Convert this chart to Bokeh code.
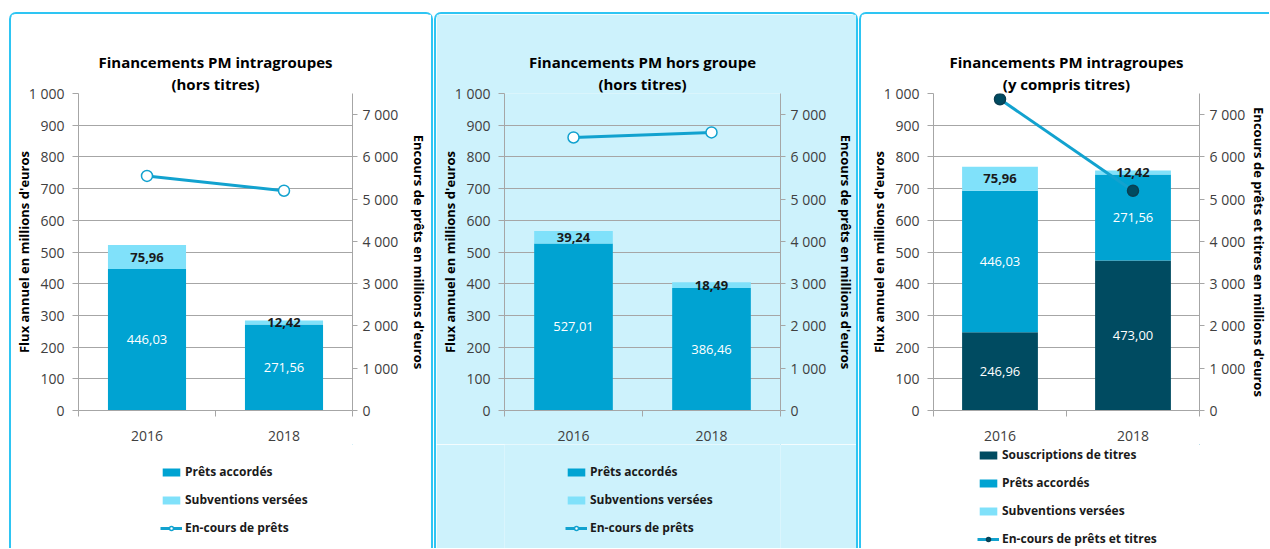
from bokeh.plotting import figure
from bokeh.models import (Range1d, LinearAxis, FixedTicker, Legend, LegendItem, Title, Spacer)
from bokeh.layouts import row, column
from bokeh.embed import file_html
from bokeh.resources import INLINE
from bokeh.core.properties import value

# ---------------- data ----------------
years = ["2016", "2018"]

p1_prets = [446.03, 271.56]
p1_subv = [75.96, 12.42]
p1_encours = [5550, 5200]

p2_prets = [527.01, 386.46]
p2_subv = [39.24, 18.49]
p2_encours = [6460, 6580]

p3_titres = [246.96, 473.00]
p3_prets = [446.03, 271.56]
p3_subv = [75.96, 12.42]
p3_encours = [7365, 5200]

left_ticks = [0, 100, 200, 300, 400, 500, 600, 700, 800, 900, 1000]
right_ticks = [0, 1000, 2000, 3000, 4000, 5000, 6000, 7000]
left_max = 1000
right_max = 7500

left_label = "Flux annuel en millions d'euros"

# ---------------- style ----------------
FONT = "Open Sans"
GRID = "#A6A6A6"
TICK_TXT = "#404040"
C_PRETS = "#00A3D2"
C_SUBV = "#80E1FA"
C_TITRES = "#004B61"
C_LINE = "#12A2CF"
BORDER = "#2EC5F3"
HC = 430   # chart part
HL = 104   # legend part


def fmt_thousands(v):
    return f"{v:,}".replace(",", " ")


def fmt_dec(v):
    return f"{v:.2f}".replace(".", ",")


def make_panel(title_lines, series, encours, line_name, marker_fill, marker_line,
               bg, w, borders, legend_xy, right_label, right_standoff, right_border):
    n = len(years)
    xs = [i + 0.5 for i in range(n)]
    bl, br, bt, bb = borders
    bd = f"2px solid {BORDER}"
    top_style = {"box-sizing": "content-box", "border-top": bd, "border-left": bd,
                 "border-right": bd if right_border else "none",
                 "border-radius": "7px 7px 0 0" if right_border else "7px 0 0 0"}
    bot_style = {"box-sizing": "content-box", "border-left": bd,
                 "border-right": bd if right_border else "none"}

    p = figure(width=w, height=HC, x_range=Range1d(0, n), y_range=Range1d(0, left_max),
               output_backend="svg", toolbar_location=None,
               min_border_left=bl, min_border_right=br, min_border_top=bt,
               min_border_bottom=bb, background_fill_color=bg, border_fill_color=bg,
               outline_line_color=None, styles=top_style)
    p.extra_y_ranges = {"enc": Range1d(0, right_max)}

    # empty spacer axis between plot area and the two title lines
    gap = LinearAxis(ticker=FixedTicker(ticks=[]), major_tick_out=19, major_tick_in=0,
                     major_label_standoff=0, axis_line_color=None,
                     major_tick_line_color=None, minor_tick_line_color=None)
    p.add_layout(gap, "above")
    tkw = dict(align="center", standoff=0, text_font=FONT, text_font_size="15px",
               text_font_style="bold", text_color="#000000")
    p.add_layout(Title(text=title_lines[1], **tkw), "above")
    p.add_layout(Title(text=title_lines[0], **tkw), "above")

    # grid
    p.xgrid.visible = False
    p.ygrid.ticker = FixedTicker(ticks=left_ticks)
    p.ygrid.grid_line_color = GRID

    # left axis
    ya = p.yaxis[0]
    ya.ticker = FixedTicker(ticks=left_ticks)
    ya.major_label_overrides = {t: fmt_thousands(t) for t in left_ticks}
    ya.axis_label = left_label
    ya.axis_label_standoff = -7

    # x axis (ticks at category boundaries)
    xa = p.below[0]
    xa.ticker = FixedTicker(ticks=xs, minor_ticks=[float(i) for i in range(n + 1)])
    xa.major_label_overrides = {x: y for x, y in zip(xs, years)}
    xa.minor_tick_out = 6
    xa.minor_tick_in = 0
    xa.minor_tick_line_color = GRID
    xa.major_label_standoff = 14

    # right axis
    ra = LinearAxis(y_range_name="enc", ticker=FixedTicker(ticks=right_ticks))
    ra.major_label_overrides = {t: fmt_thousands(t) for t in right_ticks}
    ra.axis_label = right_label
    ra.axis_label_standoff = right_standoff
    p.add_layout(ra, "right")

    for ax, tout in [(ya, 6), (ra, 5), (xa, 0)]:
        ax.axis_line_color = GRID
        ax.major_tick_line_color = GRID
        ax.major_tick_out = tout
        ax.major_tick_in = 0
        if ax is not xa:
            ax.minor_tick_line_color = None
            ax.major_label_standoff = 8 if ax is ya else 5
        ax.major_label_text_font = FONT
        ax.major_label_text_font_size = "14px"
        ax.major_label_text_color = TICK_TXT
        ax.axis_label_text_font = FONT
        ax.axis_label_text_font_size = "13px"
        ax.axis_label_text_font_style = "bold"
        ax.axis_label_text_color = "#000000"

    # stacked bars with value labels
    bottoms = [0.0] * n
    stacks = []
    for name, vals, color, txt_color, txt_style in series:
        tops = [b + v for b, v in zip(bottoms, vals)]
        p.vbar(x=xs, bottom=bottoms, top=tops, width=0.57, fill_color=color, line_color=None)
        mids = [(b + t) / 2 for b, t in zip(bottoms, tops)]
        p.text(x=xs, y=mids, text=[fmt_dec(v) for v in vals], text_align="center",
               text_baseline="middle", text_font=value(FONT), text_font_size="13px",
               text_color=txt_color, text_font_style=txt_style)
        stacks.append((name, bottoms, tops, color))
        bottoms = tops

    # outstanding amounts on the secondary axis
    line_kw = dict(line_color=C_LINE, line_width=3)
    mark_kw = dict(size=11, fill_color=marker_fill, line_color=marker_line, line_width=1.5)
    p.line(xs, encours, y_range_name="enc", **line_kw)
    p.scatter(xs, encours, y_range_name="enc", **mark_kw)

    # legend strip below the chart (its renderers lie outside its visible window)
    lg = figure(width=w, height=HL, x_range=Range1d(-3, -2), y_range=Range1d(-3, -2),
                x_axis_type=None, y_axis_type=None, output_backend="svg",
                toolbar_location=None, min_border=0, background_fill_color=bg,
                border_fill_color=bg, outline_line_color=None, styles=bot_style)
    items = []
    for name, b, t, color in stacks:
        r = lg.vbar(x=xs, bottom=b, top=t, width=0.57, fill_color=color, line_color=None)
        items.append(LegendItem(label=name, renderers=[r]))
    rl = lg.line(xs, encours, **line_kw)
    rs = lg.scatter(xs, encours, **mark_kw)
    items.append(LegendItem(label=line_name, renderers=[rl, rs]))
    leg = Legend(items=items, location=legend_xy, orientation="vertical",
                 glyph_width=22, glyph_height=10, label_height=16, spacing=11,
                 padding=0, margin=0, label_standoff=3,
                 background_fill_alpha=0, border_line_alpha=0,
                 label_text_font=FONT, label_text_font_size="12px",
                 label_text_font_style="bold", label_text_color="#1A1A1A")
    lg.add_layout(leg, "center")
    return column(Spacer(height=12), p, lg, spacing=0)


c1 = make_panel(["Financements PM intragroupes", "(hors titres)"],
                [("Prêts accordés", p1_prets, C_PRETS, "#FFFFFF", "normal"),
                 ("Subventions versées", p1_subv, C_SUBV, "#1A1A1A", "bold")],
                p1_encours, "En-cours de prêts", "#FFFFFF", C_LINE, "#FFFFFF",
                420, (67, 83, 79, 36), (82, 12),
                "Encours de prêts en millions d'euros", 9, True)

c2 = make_panel(["Financements PM hors groupe", "(hors titres)"],
                [("Prêts accordés", p2_prets, C_PRETS, "#FFFFFF", "normal"),
                 ("Subventions versées", p2_subv, C_SUBV, "#1A1A1A", "bold")],
                p2_encours, "En-cours de prêts", "#FFFFFF", C_LINE, "#CDF2FC",
                420, (68, 80, 79, 36), (61, 12),
                "Encours de prêts en millions d'euros", 8, True)

c3 = make_panel(["Financements PM intragroupes", "(y compris titres)"],
                [("Souscriptions de titres", p3_titres, C_TITRES, "#FFFFFF", "normal"),
                 ("Prêts accordés", p3_prets, C_PRETS, "#FFFFFF", "normal"),
                 ("Subventions versées", p3_subv, C_SUBV, "#1A1A1A", "bold")],
                p3_encours, "En-cours de prêts et titres", C_TITRES, "#0A3F52", "#FFFFFF",
                408, (72, 68, 79, 36), (44, 1),
                "Encours de prêts et titres en millions d'euros", 2, False)

layout = row(Spacer(width=8), c1, c2, c3, spacing=1)
open("out.html", "w").write(file_html(layout, INLINE))
